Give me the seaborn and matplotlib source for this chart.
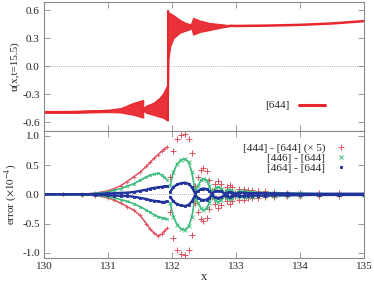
import matplotlib
matplotlib.use('Agg')
import matplotlib.pyplot as plt
from matplotlib.lines import Line2D
import seaborn as sns

# ---- top panel: u(x, t=15.5) for [644], band envelopes
feather_x = [130.0, 130.5, 131.0, 131.2, 131.4, 131.55]
feather_hi = [-0.482, -0.478, -0.465, -0.447, -0.39, -0.36]
feather_lo = [-0.498, -0.498, -0.49, -0.495, -0.52, -0.55]

arrow_lo_x = [131.53, 131.6, 131.71, 131.8, 131.86, 131.925]
arrow_lo_hi = [-0.455, -0.42, -0.39, -0.34, -0.29, -0.2]
arrow_lo_lo = [-0.465, -0.5, -0.52, -0.54, -0.55, -0.58]

jump_x = [131.918, 131.935]
jump_hi = [0.6, 0.6]
jump_lo = [-0.58, -0.58]

band_x = [131.93, 131.945, 131.97, 132.02, 132.12, 132.2, 132.29]
band_hi = [0.6, 0.58, 0.57, 0.55, 0.50, 0.47, 0.45]
band_lo = [-0.58, 0.08, 0.21, 0.30, 0.36, 0.38, 0.40]

arrow_hi_x = [132.29, 132.33, 132.44, 132.59, 132.8, 132.9]
arrow_hi_hi = [0.445, 0.52, 0.49, 0.465, 0.45, 0.44]
arrow_hi_lo = [0.435, 0.34, 0.37, 0.39, 0.42, 0.43]

tail_x = [132.9, 133.0, 133.5, 134.0, 134.5, 135.0]
tail_u = [0.435, 0.433, 0.437, 0.445, 0.46, 0.485]

# ---- bottom panel: errors (x 1e-4), before the shock (upper / lower branches)
pre_x = [130.0, 130.3, 130.6, 130.8, 131.0, 131.1, 131.2, 131.3, 131.4, 131.5,
         131.6, 131.66, 131.72, 131.78, 131.84, 131.88, 131.92]
red_up = [0, 0, 0.005, 0.02, 0.06, 0.1, 0.15, 0.22, 0.30, 0.38, 0.48, 0.55,
          0.62, 0.68, 0.74, 0.78, 0.81]
red_lo = [0, 0, -0.005, -0.02, -0.06, -0.1, -0.15, -0.21, -0.27, -0.36, -0.50,
          -0.60, -0.66, -0.71, -0.68, -0.63, -0.58]
green_up = [0, 0, 0.003, 0.015, 0.04, 0.07, 0.1, 0.14, 0.18, 0.24, 0.30, 0.33,
            0.35, 0.36, 0.33, 0.29, 0.25]
green_lo = [0, 0, -0.003, -0.015, -0.04, -0.06, -0.09, -0.12, -0.16, -0.21,
            -0.27, -0.31, -0.35, -0.38, -0.40, -0.41, -0.42]
blue_up = [0, 0, 0, 0.005, 0.015, 0.02, 0.025, 0.03, 0.04, 0.06, 0.08, 0.10,
           0.11, 0.12, 0.13, 0.135, 0.14]
blue_lo = [0, 0, 0, -0.005, -0.015, -0.02, -0.025, -0.03, -0.04, -0.06, -0.08,
           -0.10, -0.11, -0.12, -0.13, -0.13, -0.12]

# after the shock: lens-shaped oscillations, symmetric about zero
post_x = [131.97, 132.02, 132.08, 132.14, 132.20, 132.26, 132.31, 132.36, 132.41,
          132.45, 132.49, 132.54, 132.58, 132.62, 132.67, 132.72, 132.77, 132.82,
          132.86, 132.90, 132.94, 132.98, 133.05, 133.12, 133.18, 133.25, 133.35,
          133.45, 133.6, 133.8, 134.0, 134.3, 134.6, 135.0]
red_amp = [0.3, 0.75, 0.95, 1.02, 1.04, 0.95, 0.7, 0.15, 0.3, 0.42, 0.45, 0.4,
           0.25, 0.05, 0.17, 0.23, 0.18, 0.04, 0.12, 0.16, 0.12, 0.03, 0.1, 0.09,
           0.07, 0.07, 0.06, 0.05, 0.04, 0.03, 0.03, 0.02, 0.02, 0.01]
green_amp = [0.15, 0.38, 0.52, 0.59, 0.61, 0.55, 0.38, 0.05, 0.15, 0.24, 0.27,
             0.24, 0.15, 0.03, 0.10, 0.13, 0.10, 0.02, 0.07, 0.08, 0.06, 0.02,
             0.05, 0.05, 0.04, 0.04, 0.03, 0.03, 0.03, 0.02, 0.02, 0.01, 0.01, 0.01]
blue_amp = [0.04, 0.12, 0.17, 0.19, 0.20, 0.18, 0.12, 0.02, 0.06, 0.09, 0.10,
            0.09, 0.06, 0.01, 0.05, 0.06, 0.05, 0.01, 0.03, 0.04, 0.03, 0.01,
            0.03, 0.03, 0.02, 0.02, 0.02, 0.02, 0.015, 0.015, 0.01, 0.01, 0.01, 0.01]

labels = ['[444] - [644] (× 5)', '[446] - [644]', '[464] - [644]']
x_ticks = [130, 131, 132, 133, 134, 135]

sns.set_theme(style='ticks')
plt.rcParams['font.family'] = ['Liberation Serif', 'DejaVu Serif']
plt.rcParams['mathtext.fontset'] = 'stix'
plt.rcParams['axes.unicode_minus'] = False

RED = '#e8262e'
ERR_RED = '#e0505e'
GREEN = '#3dbb7c'
BLUE = '#23339c'
SPINE = '#8a8a8a'

fig = plt.figure(figsize=(3.74, 2.82), dpi=100)
ax1 = fig.add_axes([0.1176, 0.5365, 0.856, 0.4564])
ax2 = fig.add_axes([0.1176, 0.0851, 0.856, 0.4514])

# --- top
for ax in (ax1, ax2):
    ax.axhline(0, color='#999999', lw=0.6, ls=(0, (1, 1.5)), zorder=0)

for xs, hi, lo in [(feather_x, feather_hi, feather_lo),
                   (arrow_lo_x, arrow_lo_hi, arrow_lo_lo),
                   (jump_x, jump_hi, jump_lo),
                   (band_x, band_hi, band_lo),
                   (arrow_hi_x, arrow_hi_hi, arrow_hi_lo)]:
    ax1.fill_between(xs, lo, hi, color=RED, lw=0.8, edgecolor=RED, alpha=0.95)
sns.lineplot(x=feather_x[:3], y=[-0.49, -0.489, -0.478], ax=ax1, color=RED, lw=1.6)
sns.lineplot(x=tail_x, y=tail_u, ax=ax1, color=RED, lw=1.8)

ax1.set_xlim(130, 135)
ax1.set_ylim(-0.69, 0.69)
ax1.set_yticks([-0.6, -0.3, 0.0, 0.3, 0.6])
ax1.set_yticklabels(['-0.6', '-0.3', '0.0', '0.3', '0.6'])
ax1.set_xticks(x_ticks)
ax1.set_xticklabels([])
ax1.set_ylabel('u(x,t=15.5)', fontsize=8, labelpad=2)
ax1.legend(handles=[Line2D([], [], color=RED, lw=2.2)], labels=['[644]'],
           markerfirst=False, frameon=False, fontsize=8, handlelength=2.4,
           loc='lower right', bbox_to_anchor=(0.91, 0.08))

# --- bottom
series = [(red_up, red_lo, red_amp, ERR_RED, '+', 2.6, 1.1, 4.0),
          (green_up, green_lo, green_amp, GREEN, 'x', 2.0, 1.2, 2.6),
          (blue_up, blue_lo, blue_amp, BLUE, 's', 1.5, 1.7, 1.5)]
for up, lo, amp, col, mk, ms, lw, ms_post in series:
    for branch in (up, lo):
        sns.lineplot(x=pre_x, y=branch, ax=ax2, color=col, lw=lw,
                     marker=mk, markersize=ms, markeredgecolor=col, mew=0.6)
    neg = [-a for a in amp]
    if mk == '+':
        for branch in (amp, neg):
            ax2.plot(post_x, branch, ls='none', marker=mk, ms=ms_post, color=col, mew=0.7)
    else:
        for branch in (amp, neg):
            sns.lineplot(x=post_x, y=branch, ax=ax2, color=col, lw=lw,
                         marker=mk, markersize=ms_post, markeredgecolor=col, mew=0.6)

ax2.set_xlim(130, 135)
ax2.set_ylim(-1.09, 1.09)
ax2.set_yticks([-1.0, -0.5, 0.0, 0.5, 1.0])
ax2.set_yticklabels(['-1.0', '-0.5', '0.0', '0.5', '1.0'])
ax2.set_xticks(x_ticks)
ax2.set_xticklabels([str(t) for t in x_ticks])
ax2.set_xlabel('x', fontsize=9, labelpad=0)
ax2.set_ylabel(r'error ($\times 10^{-4}$)', fontsize=8, labelpad=2)

handles = [Line2D([], [], ls='none', marker=s[4], color=s[3], ms=s[7] if s[4] != 's' else 2.0, mew=0.7)
           for s in series]
ax2.legend(handles=handles, labels=labels, markerfirst=False, frameon=False,
           fontsize=8, handlelength=1.0, labelspacing=0.0, handletextpad=0.9,
           loc='upper right', bbox_to_anchor=(0.975, 0.98))

for ax in (ax1, ax2):
    ax.tick_params(direction='in', top=True, right=True, length=4, width=0.6,
                   color=SPINE, labelsize=8, pad=3)
    for s in ax.spines.values():
        s.set_color(SPINE)
        s.set_linewidth(0.8)

fig.savefig('out.png', dpi=100)
